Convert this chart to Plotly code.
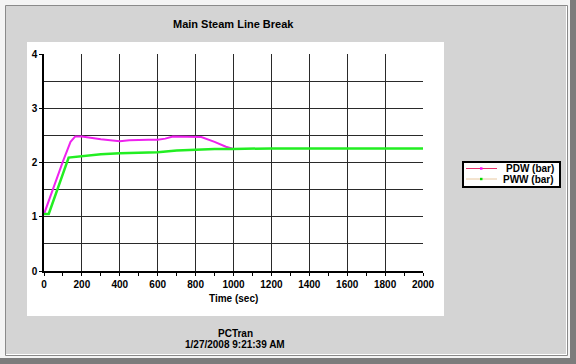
import plotly.graph_objects as go

# ---- data ----
t_pdw = [0, 20, 60, 100, 140, 165, 200, 250, 300, 350, 400, 450, 500, 550, 600, 640, 680, 750, 800, 830, 900, 960, 1000]
pdw = [1.05, 1.25, 1.65, 2.02, 2.38, 2.48, 2.48, 2.45, 2.43, 2.41, 2.39, 2.41, 2.42, 2.42, 2.42, 2.44, 2.48, 2.48, 2.48, 2.47, 2.38, 2.29, 2.25]

t_pww = [0, 25, 130, 200, 300, 400, 500, 600, 700, 800, 900, 1000, 1100, 1200, 1400, 1600, 1800, 2000]
pww = [1.05, 1.05, 2.09, 2.12, 2.15, 2.17, 2.18, 2.19, 2.22, 2.24, 2.25, 2.25, 2.26, 2.26, 2.26, 2.26, 2.26, 2.26]

x_ticks = [0, 200, 400, 600, 800, 1000, 1200, 1400, 1600, 1800, 2000]
y_ticks = [0, 1, 2, 3, 4]

series_names = ["PDW (bar)", "PWW (bar)"]
series_line_colors = ["#ee22ee", "#22ee22"]
legend_line_colors = ["#e8306a", "#e8c8a0"]
legend_marker_colors = ["#ff00ff", "#00dd00"]

title_text = "Main Steam Line Break"
x_title = "Time (sec)"
footer1 = "PCTran"
footer2 = "1/27/2008 9:21:39 AM"

# ---- layout geometry (pixels) ----
W, H = 576, 364
L, R, T, B = 44, 423, 54, 271
pw, ph = R - L, B - T


def px(x):
    return (x - L) / pw


def py(y):
    return (B - y) / ph


FONT = "Liberation Sans, Arial, sans-serif"

fig = go.Figure()
fig.add_trace(go.Scatter(x=t_pdw, y=pdw, mode="lines", line=dict(color=series_line_colors[0], width=2),
                         showlegend=False, name=series_names[0]))
fig.add_trace(go.Scatter(x=t_pww, y=pww, mode="lines", line=dict(color=series_line_colors[1], width=2.5),
                         showlegend=False, name=series_names[1]))

shapes = [
    # outer frame
    dict(type="rect", xref="paper", yref="paper", x0=px(0), x1=px(570), y0=py(0), y1=py(358),
         fillcolor="#f4f4f4", line=dict(width=0), layer="below"),
    dict(type="rect", xref="paper", yref="paper", x0=px(5.5), x1=px(567.5), y0=py(5.5), y1=py(355.5),
         fillcolor="#d4d4d4", line=dict(color="#8a8a8a", width=1), layer="below"),
    dict(type="line", xref="paper", yref="paper", x0=px(6), x1=px(567), y0=py(354.5), y1=py(354.5),
         line=dict(color="#ffffff", width=1), layer="below"),
    dict(type="line", xref="paper", yref="paper", x0=px(566.5), x1=px(566.5), y0=py(6), y1=py(355),
         line=dict(color="#ffffff", width=1), layer="below"),
    # white panel
    dict(type="rect", xref="paper", yref="paper", x0=px(27), x1=px(444), y0=py(42), y1=py(316),
         fillcolor="#ffffff", line=dict(width=0), layer="below"),
    # legend box
    dict(type="rect", xref="paper", yref="paper", x0=px(463), x1=px(560), y0=py(162), y1=py(187),
         fillcolor="#ffffff", line=dict(color="#000000", width=2), layer="above"),
]

annotations = [
    dict(text=f"<b>{title_text}</b>", x=px(233), y=py(24), xref="paper", yref="paper",
         xanchor="center", yanchor="middle",
         showarrow=False, font=dict(size=11, color="#000", family=FONT)),
    dict(text=f"<b>{x_title}</b>", x=px(233), y=py(298), xref="paper", yref="paper",
         xanchor="center", yanchor="middle",
         showarrow=False, font=dict(size=10, color="#000", family=FONT)),
    dict(text=f"<b>{footer1}</b>", x=px(235), y=py(333), xref="paper", yref="paper",
         xanchor="center", yanchor="middle",
         showarrow=False, font=dict(size=10, color="#000", family=FONT)),
    dict(text=f"<b>{footer2}</b>", x=px(235), y=py(344), xref="paper", yref="paper",
         xanchor="center", yanchor="middle",
         showarrow=False, font=dict(size=10, color="#000", family=FONT)),
]

# legend rows (drawn manually for compact spacing)
row_y = [168.5, 179]
for i, name in enumerate(series_names):
    yy = row_y[i]
    shapes.append(dict(type="line", xref="paper", yref="paper", x0=px(466), x1=px(497),
                       y0=py(yy), y1=py(yy), line=dict(color=legend_line_colors[i], width=1), layer="above"))
    shapes.append(dict(type="rect", xref="paper", yref="paper", x0=px(480), x1=px(482.5),
                       y0=py(yy - 1.2), y1=py(yy + 1.2), fillcolor=legend_marker_colors[i],
                       line=dict(width=0), layer="above"))
    annotations.append(dict(text=f"<b>{name}</b>", x=px(556), y=py(yy), xref="paper", yref="paper",
                            xanchor="right", yanchor="middle", showarrow=False,
                            font=dict(size=10, color="#000", family=FONT)))

fig.update_layout(
    width=W, height=H,
    margin=dict(l=L, r=W - R, t=T, b=H - B, pad=0),
    paper_bgcolor="#7c7c7c",
    plot_bgcolor="rgba(0,0,0,0)",
    shapes=shapes,
    annotations=annotations,
    font=dict(family=FONT, size=10, color="#000"),
    showlegend=False,
)

fig.update_xaxes(
    range=[0, 2000], tickvals=x_ticks, ticktext=[f"<b>{v}</b>" for v in x_ticks],
    showgrid=True, gridcolor="#2a2a2a", gridwidth=1,
    showline=True, linecolor="#000", linewidth=1.5,
    ticks="outside", ticklen=3, tickcolor="#000",
    minor=dict(dtick=100, tick0=0, ticks="outside", ticklen=3, tickcolor="#000", showgrid=False),
    zeroline=False, fixedrange=True,
    tickfont=dict(size=10, family=FONT, color="#000"),
)
fig.update_yaxes(
    range=[0, 4], tickvals=y_ticks, ticktext=[f"<b>{v}</b>" for v in y_ticks],
    showgrid=True, gridcolor="#2a2a2a", gridwidth=1,
    showline=True, linecolor="#000", linewidth=1.5,
    ticks="outside", ticklen=3, tickcolor="#000",
    minor=dict(dtick=0.5, tick0=0, showgrid=True, gridcolor="#2a2a2a", gridwidth=1, ticks=""),
    zeroline=False, fixedrange=True,
    tickfont=dict(size=10, family=FONT, color="#000"),
)

fig.write_html("out.html", config={"displayModeBar": False},
               post_script="document.body.style.margin='0';document.body.style.overflow='hidden';")
